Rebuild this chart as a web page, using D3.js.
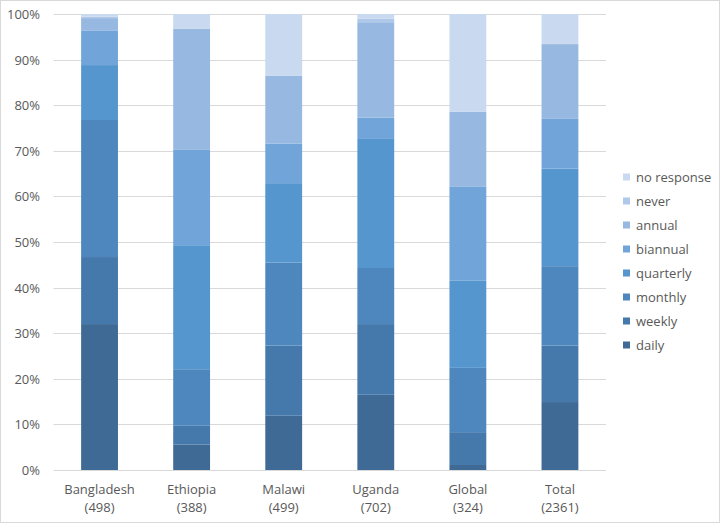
<!DOCTYPE html>
<html>
<head>
<meta charset="utf-8">
<script src="https://cdn.jsdelivr.net/npm/d3@7"></script>
<style>
  html, body { margin: 0; padding: 0; background: #fff; }
  svg { display: block; }
  text { font-family: "Open Sans", "Noto Sans", sans-serif; fill: #595959; }
</style>
</head>
<body>
<svg id="chart" width="720" height="523"></svg>
<script>
const categories = ["Bangladesh", "Ethiopia", "Malawi", "Uganda", "Global", "Total"];
const counts = ["(498)", "(388)", "(499)", "(702)", "(324)", "(2361)"];
const seriesNames = ["daily", "weekly", "monthly", "quarterly", "biannual", "annual", "never", "no response"];
const seriesColors = ["#3e6a95", "#4578ab", "#4d87bd", "#5596ce", "#71a5d9", "#97b8e0", "#b0c9ea", "#c9d9ef"];
const daily      = [32.0,  5.6, 11.9, 16.5,  1.1, 14.9];
const weekly     = [14.7,  4.1, 15.4, 15.5,  7.2, 12.4];
const monthly    = [30.05, 12.4, 18.2, 12.3, 14.1, 17.4];
const quarterly  = [12.05, 27.2, 17.4, 28.3, 19.1, 21.4];
const biannual   = [ 7.5, 20.9,  8.7,  4.7, 20.7, 10.9];
const annual     = [ 2.8, 26.6, 14.9, 20.9, 16.4, 16.4];
const never      = [ 0.3,  0.0,  0.0,  0.8,  0.0,  0.0];
const noResponse = [ 0.6,  3.2, 13.5,  1.0, 21.4,  6.6];
const yTicks = [0, 10, 20, 30, 40, 50, 60, 70, 80, 90, 100];

const seriesValues = [daily, weekly, monthly, quarterly, biannual, annual, never, noResponse];
const rows = categories.map((c, i) => {
  const r = { category: c };
  seriesNames.forEach((s, k) => { r[s] = seriesValues[k][i]; });
  return r;
});

const svg = d3.select("#chart");
const W = 720, H = 523;
const plot = { left: 53.5, right: 606, top: 14, bottom: 470 };

// outer border
svg.append("rect").attr("x", 0.5).attr("y", 0.5).attr("width", W - 1).attr("height", H - 1)
  .attr("fill", "#fff").attr("stroke", "#d9d9d9");

const x = d3.scaleBand().domain(categories).range([plot.left, plot.right])
  .paddingInner(0.6).paddingOuter(0.3);
const y = d3.scaleLinear().domain([0, 100]).range([plot.bottom, plot.top]);

// gridlines
svg.append("g").selectAll("line").data(yTicks).join("line")
  .attr("x1", plot.left).attr("x2", plot.right)
  .attr("y1", d => Math.round(y(d)) + 0.5).attr("y2", d => Math.round(y(d)) + 0.5)
  .attr("stroke", "#d9d9d9").attr("stroke-width", 1);

// y axis labels
const yAxis = d3.axisLeft(y).tickValues(yTicks).tickFormat(d => d + "%").tickSize(0).tickPadding(0);
const ya = svg.append("g").attr("transform", `translate(40,0)`).call(yAxis);
ya.select(".domain").remove();
ya.selectAll("text").style("font-size", "13px").attr("fill", "#595959").attr("dy", "0.35em");

// stacked bars
const stack = d3.stack().keys(seriesNames);
const stacked = stack(rows);
svg.append("g").selectAll("g").data(stacked).join("g")
  .attr("fill", (d, i) => seriesColors[i])
  .selectAll("rect").data(d => d).join("rect")
  .attr("x", d => x(d.data.category))
  .attr("width", x.bandwidth())
  .attr("y", d => y(d[1]))
  .attr("height", d => Math.max(0, y(d[0]) - y(d[1])));

// x axis labels
const xAxis = d3.axisBottom(x).tickSize(0).tickPadding(0).tickFormat(() => "");
const xa = svg.append("g").attr("transform", `translate(0,${plot.bottom})`).call(xAxis);
xa.select(".domain").remove();
xa.selectAll(".tick").each(function(d, i) {
  const t = d3.select(this).append("text").attr("text-anchor", "middle")
    .style("font-size", "13px").attr("fill", "#595959");
  t.append("tspan").attr("x", 0).attr("y", 24).text(categories[i]);
  t.append("tspan").attr("x", 0).attr("y", 42).text(counts[i]);
});

// legend (top to bottom: no response ... daily)
const legendItems = seriesNames.map((s, i) => ({ name: s, color: seriesColors[i] })).reverse();
const lg = svg.append("g").attr("transform", "translate(623,177)");
const li = lg.selectAll("g").data(legendItems).join("g")
  .attr("transform", (d, i) => `translate(0,${i * 24})`);
li.append("rect").attr("x", 0).attr("y", -3.5).attr("width", 7).attr("height", 7).attr("fill", d => d.color);
li.append("text").attr("x", 13).attr("y", 0).attr("dy", "0.35em")
  .style("font-size", "13px").attr("fill", "#595959").text(d => d.name);
</script>
</body>
</html>
